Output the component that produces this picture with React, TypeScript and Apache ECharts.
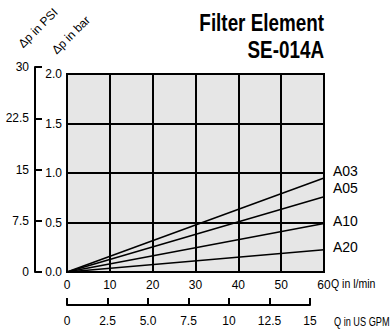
import React, { useEffect, useRef } from "react";
import * as echarts from "echarts";

const flowLpm = [0, 60];
const seriesNames = ["A03", "A05", "A10", "A20"];
const endValuesBar = [0.95, 0.76, 0.49, 0.225];
const labelOffsets = [[0, -7], [0, -9], [0, -2], [0, -3]];
const barTicks = ["0.0", "0.5", "1.0", "1.5", "2.0"];
const gpmTickLabels: Record<string, string> = { "0": "0", "2.5": "2.5", "5": "5.0", "7.5": "7.5", "10": "10", "12.5": "12.5", "15": "15" };

const FONT = "'Liberation Sans', Arial, sans-serif";

export default function App() {
  const ref = useRef<HTMLDivElement>(null);
  useEffect(() => {
    if (!ref.current) return;
    const chart = echarts.init(ref.current, undefined, { renderer: "svg" });
    const series = seriesNames.map((name, i) => ({
      name,
      type: "line",
      xAxisIndex: 0,
      yAxisIndex: 0,
      symbol: "none",
      lineStyle: { color: "#000", width: 1.5 },
      data: [[flowLpm[0], 0], [flowLpm[1], endValuesBar[i]]],
      endLabel: {
        show: true,
        formatter: name,
        color: "#000",
        fontFamily: FONT,
        fontSize: 14,
        distance: 9,
        offset: labelOffsets[i],
      },
      z: 3,
    }));
    const tickLabel = { color: "#000", fontFamily: FONT, fontSize: 12 };
    chart.setOption({
      animation: false,
      backgroundColor: "#fff",
      grid: [
        {
          left: 67,
          top: 74,
          right: 67,
          bottom: 58,
          show: true,
          backgroundColor: "#e6e6e6",
          borderColor: "#000",
          borderWidth: 2,
        },
        {
          left: 67,
          top: 67,
          right: 81,
          bottom: 58,
          show: false,
        },
      ],
      xAxis: [
        {
          gridIndex: 0,
          type: "value",
          min: 0,
          max: 60,
          interval: 10,
          position: "bottom",
          axisLine: { show: true, onZero: false, lineStyle: { color: "#000", width: 2 } },
          axisTick: { show: false },
          axisLabel: { ...tickLabel, margin: 7 },
          splitLine: { show: true, lineStyle: { color: "#000", width: 2 } },
        },
        {
          gridIndex: 1,
          type: "value",
          min: 0,
          max: 15,
          interval: 2.5,
          position: "bottom",
          offset: 33,
          axisLine: { show: true, onZero: false, lineStyle: { color: "#000", width: 2 } },
          axisTick: { show: true, inside: true, length: 7, lineStyle: { color: "#000", width: 2 } },
          axisLabel: {
            ...tickLabel,
            margin: 10,
            showMinLabel: true,
            showMaxLabel: true,
            formatter: (v: number) => gpmTickLabels[String(v)] ?? String(v),
          },
          splitLine: { show: false },
        },
      ],
      yAxis: [
        {
          gridIndex: 0,
          type: "value",
          min: 0,
          max: 2,
          interval: 0.5,
          position: "left",
          axisLine: { show: true, onZero: false, lineStyle: { color: "#000", width: 2 } },
          axisTick: { show: false },
          axisLabel: {
            ...tickLabel,
            margin: 5,
            formatter: (v: number) => barTicks[Math.round(v / 0.5)] ?? v.toFixed(1),
          },
          splitLine: { show: true, lineStyle: { color: "#000", width: 2 } },
        },
        {
          gridIndex: 1,
          type: "value",
          min: 0,
          max: 30,
          interval: 7.5,
          position: "left",
          offset: 32,
          axisLine: { show: true, onZero: false, lineStyle: { color: "#000", width: 2 } },
          axisTick: { show: true, inside: true, length: 7, lineStyle: { color: "#000", width: 2 } },
          axisLabel: { ...tickLabel, margin: 6 },
          splitLine: { show: false },
        },
      ],
      series,
      graphic: [
        {
          type: "text",
          x: 324,
          y: 23,
          scaleX: 0.82,
          style: { text: "Filter Element", fill: "#000", fontFamily: FONT, fontSize: 23, fontWeight: "bold", align: "right", verticalAlign: "middle" },
        },
        {
          type: "text",
          x: 324,
          y: 50,
          scaleX: 0.82,
          style: { text: "SE-014A", fill: "#000", fontFamily: FONT, fontSize: 23, fontWeight: "bold", align: "right", verticalAlign: "middle" },
        },
        {
          type: "text",
          x: 38,
          y: 28,
          rotation: Math.PI / 4,
          style: { text: "Δp in PSI", fill: "#000", fontFamily: FONT, fontSize: 12, align: "center", verticalAlign: "middle" },
        },
        {
          type: "text",
          x: 71,
          y: 35,
          rotation: Math.PI / 4,
          style: { text: "Δp in bar", fill: "#000", fontFamily: FONT, fontSize: 12, align: "center", verticalAlign: "middle" },
        },
        {
          type: "text",
          x: 331,
          y: 284,
          scaleX: 0.78,
          style: { text: "Q in l/min", fill: "#000", fontFamily: FONT, fontSize: 13.5, align: "left", verticalAlign: "middle" },
        },
        {
          type: "text",
          x: 334,
          y: 321,
          scaleX: 0.68,
          style: { text: "Q in US GPM", fill: "#000", fontFamily: FONT, fontSize: 13.5, align: "left", verticalAlign: "middle" },
        },
      ],
    });
    return () => chart.dispose();
  }, []);
  return <div ref={ref} style={{ position: "fixed", left: 0, top: 0, width: 391, height: 330 }} />;
}
